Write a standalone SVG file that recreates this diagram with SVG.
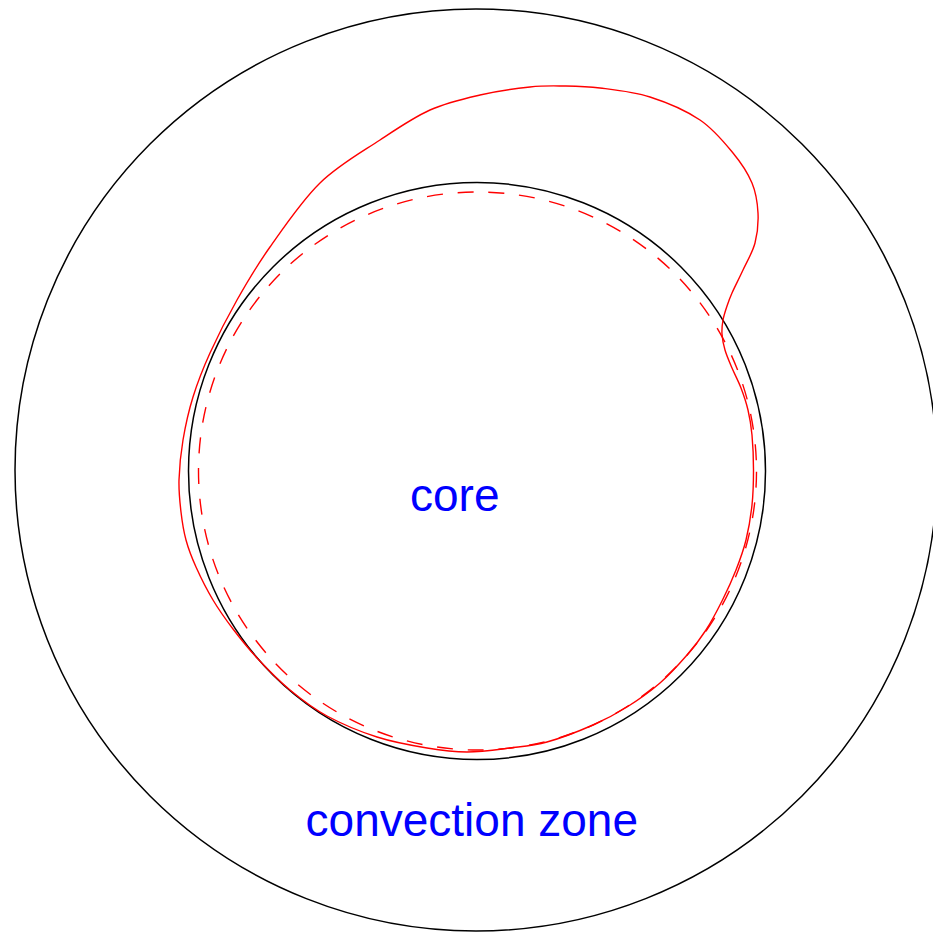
<svg xmlns="http://www.w3.org/2000/svg" width="933" height="933" viewBox="0 0 933 933">
<style>
.ring{fill:none;stroke:#000;stroke-width:1.5}
.red{fill:none;stroke:#ff0000;stroke-width:1.4}
.dash{stroke-dasharray:16 14.8;stroke-dashoffset:-0.7}
.lbl{font-family:"Liberation Sans",Arial,sans-serif;font-size:46px;fill:#0000ff}
</style>
<rect width="933" height="933" fill="#fff"/>
<g id="convection-zone">
<circle class="ring" cx="476" cy="470" r="461"/>
<text class="lbl" x="305.6" y="836">convection zone</text>
</g>
<g id="core">
<circle class="ring" cx="477" cy="471" r="288.5"/>
<text class="lbl" x="410" y="511">core</text>
</g>
<g id="connectors">
<circle class="red dash" cx="477.5" cy="471" r="279"/>
<path class="red" d="M753.5,470 C753.5,458.33 752.92,445 752,435 C751.08,425 749.83,417.83 748,410 C746.17,402.17 743.67,395 741,388 C738.33,381 734.67,374.33 732,368 C729.33,361.67 726.67,355.67 725,350 C723.33,344.33 722.33,339 722,334 C721.67,329 722.17,324.67 723,320 C723.83,315.33 725.5,310.5 727,306 C728.5,301.5 729.33,299 732,293 C734.67,287 739.17,278.33 743,270 C746.83,261.67 752.5,252.5 755,243 C757.5,233.5 758.5,223 758,213 C757.5,203 756.17,193 752,183 C747.83,173 741.67,163.5 733,153 C724.33,142.5 713.83,129.33 700,120 C686.17,110.67 666.67,102.33 650,97 C633.33,91.67 614.5,89.83 600,88 C585.5,86.17 574.67,86.17 563,86 C551.33,85.83 543.83,85.5 530,87 C516.17,88.5 496.67,91.17 480,95 C463.33,98.83 446.67,102.5 430,110 C413.33,117.5 398.33,127.83 380,140 C361.67,152.17 338.33,165.17 320,183 C301.67,200.83 283.83,227.5 270,247 C256.17,266.5 247,282.33 237,300 C227,317.67 217.33,336.83 210,353 C202.67,369.17 197.5,382.5 193,397 C188.5,411.5 185.33,426.17 183,440 C180.67,453.83 179.33,468 179,480 C178.67,492 179.83,502 181,512 C182.17,522 183.5,530.83 186,540 C188.5,549.17 191.5,557 196,567 C200.5,577 206.83,589.67 213,600 C219.17,610.33 225.5,619.17 233,629 C240.5,638.83 248.5,648.83 258,659 C267.5,669.17 278.5,680.5 290,690 C301.5,699.5 312.5,708.17 327,716 C341.5,723.83 360.33,731.67 377,737 C393.67,742.33 412,745.5 427,748 C442,750.5 453.17,752 467,752 C480.83,752 496.67,749.67 510,748 C523.33,746.33 533.17,745.83 547,742 C560.83,738.17 579.67,730.83 593,725 C606.33,719.17 615.83,714 627,707 C638.17,700 650,691.67 660,683 C670,674.33 679.33,663.83 687,655 C694.67,646.17 700.08,639.17 706,630 C711.92,620.83 717.5,610 722.5,600 C727.5,590 732.08,580 736,570 C739.92,560 743.33,550.83 746,540 C748.67,529.17 750.75,516.67 752,505 C753.25,493.33 753.5,481.67 753.5,470 Z"/>
</g>
</svg>
